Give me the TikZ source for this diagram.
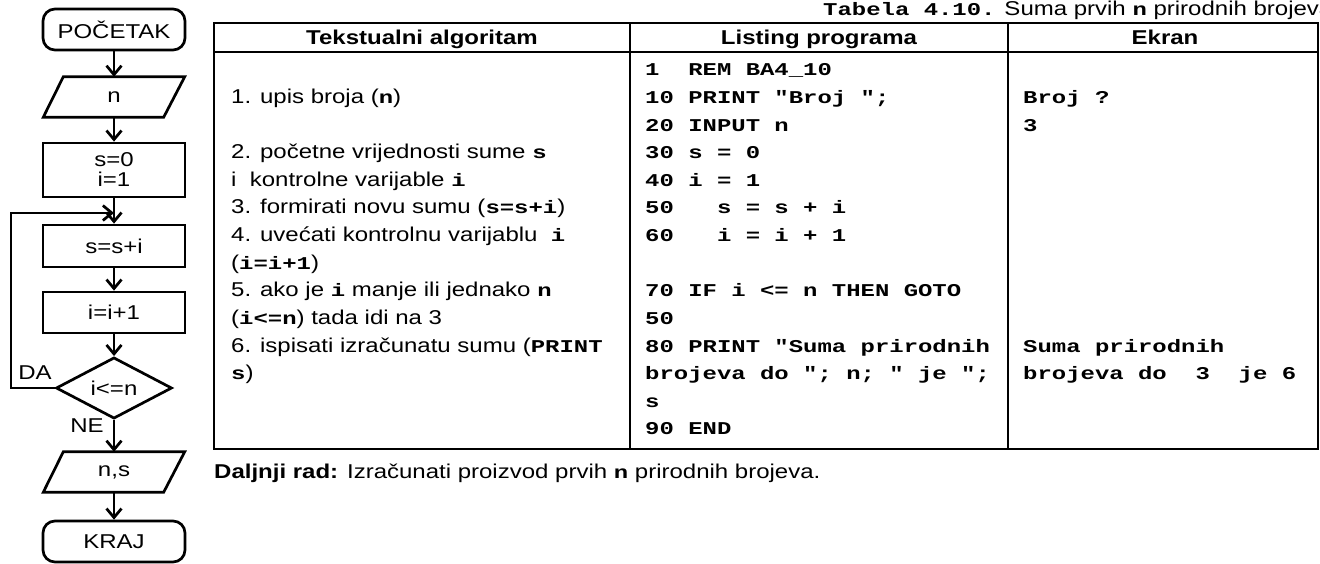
\documentclass[tikz,border=0pt]{standalone}
\usepackage{fontspec}
\setmainfont{Liberation Sans}[FakeStretch=1.2]
\newfontfamily\codefont{Liberation Mono}[FakeStretch=1.33]
\usetikzlibrary{arrows.meta,shapes.geometric}
% bold typewriter text for BASIC code and variable names
\newcommand{\cd}[1]{{\codefont\bfseries\fontsize{18}{18}\selectfont #1}}
\begin{document}
\begin{tikzpicture}[x=1pt,y=-1pt,
  every node/.style={font=\fontsize{20}{20}\selectfont, inner sep=0pt},
  fl/.style={line width=2.7pt},
  tl/.style={line width=2.4pt},
  flow/.style={fl, -{Straight Barb[length=9pt,width=15pt]}},
  term/.style={draw, fl, rounded corners=12pt, minimum width=142pt, minimum height=41pt},
  proc/.style={draw, fl, minimum width=142pt},
  io/.style={minimum width=141pt, minimum height=40pt},
  cond/.style={draw, fl, diamond, minimum width=116pt, minimum height=59pt},
  cell/.style={anchor=base west},
  head/.style={anchor=base, font=\fontsize{20}{20}\selectfont\bfseries}]

\useasboundingbox (0,0) rectangle (1320,564);
\fill[white] (0,0) rectangle (1320,564);

% ---------- flowchart ----------
\node[term] (start) at (114,29.5) {POČETAK};
\node[io] (in) at (114,97) {n};
\node[proc, minimum height=54pt, align=center] (init) at (114,170) {s=0\\i=1};
\node[proc, minimum height=42pt] (add) at (114,246) {s=s+i};
\node[proc, minimum height=41pt] (inc) at (114,312.5) {i=i+1};
\node[cond] (test) at (114,388) {i<=n};
\node[io] (out) at (114,472) {n,s};
\node[term] (stop) at (114,541.5) {KRAJ};

\draw[fl, line join=miter] (in.south west) -- ([xshift=-21pt]in.south east)
  -- (in.north east) -- ([xshift=20pt]in.north west) -- cycle;
\draw[fl, line join=miter] (out.south west) -- ([xshift=-21pt]out.south east)
  -- (out.north east) -- ([xshift=20pt]out.north west) -- cycle;

\draw[flow] (start) -- (in);
\draw[flow] (in) -- (init);
\draw[flow] (init) -- (add);
\draw[flow] (add) -- (inc);
\draw[flow] (inc) -- (test);
\draw[flow] (test) -- (out);
\draw[flow] (out) -- (stop);

\coordinate (lp) at (11,213);
\draw[flow] (test.west) -| (lp) -- (lp -| init.south);

\node (da) at (35,373) {DA};
\node (ne) at (87,426) {NE};

% ---------- table ----------
\node[anchor=base west] (cap) at (823,16) {\cd{Tabela 4.10.} Suma prvih \cd{n} prirodnih brojeva};

\draw[tl] (214,23) rectangle (1318,449);
\draw[tl] (214,52) -- (1318,52);
\draw[tl] (630,23) -- (630,449);
\draw[tl] (1008,23) -- (1008,449);

\node[head] (h1) at (422,45) {Tekstualni algoritam};
\node[head] (h2) at (819,45) {Listing programa};
\node[head] (h3) at (1165,45) {Ekran};

% algorithm column
\node[cell] (a1) at (231,103.6) {1. upis broja (\cd{n})};
\node[cell] (a2) at (231,158.8) {2. početne vrijednosti sume \cd{s}};
\node[cell] (a3) at (231,186.4) {i\ \ kontrolne varijable \cd{i}};
\node[cell] (a4) at (231,214) {3. formirati novu sumu (\cd{s=s+i})};
\node[cell] (a5) at (231,241.6) {4. uvećati kontrolnu varijablu\ \ \cd{i}};
\node[cell] (a6) at (231,269.2) {(\cd{i=i+1})};
\node[cell] (a7) at (231,296.8) {5. ako je \cd{i} manje ili jednako \cd{n}};
\node[cell] (a8) at (231,324.4) {(\cd{i<=n}) tada idi na 3};
\node[cell] (a9) at (231,352) {6. ispisati izračunatu sumu (\cd{PRINT}};
\node[cell] (a10) at (231,379.6) {\cd{s})};

% program listing column
\node[cell] (p0) at (645,76) {\cd{1\ \ REM BA4\_10}};
\node[cell] (p1) at (645,103.6) {\cd{10 PRINT "Broj ";}};
\node[cell] (p2) at (645,131.2) {\cd{20 INPUT n}};
\node[cell] (p3) at (645,158.8) {\cd{30 s = 0}};
\node[cell] (p4) at (645,186.4) {\cd{40 i = 1}};
\node[cell] (p5) at (645,214) {\cd{50\ \ \ s = s + i}};
\node[cell] (p6) at (645,241.6) {\cd{60\ \ \ i = i + 1}};
\node[cell] (p8) at (645,296.8) {\cd{70 IF i <= n THEN GOTO}};
\node[cell] (p9) at (645,324.4) {\cd{50}};
\node[cell] (p10) at (645,352) {\cd{80 PRINT "Suma prirodnih}};
\node[cell] (p11) at (645,379.6) {\cd{brojeva do "; n; " je ";}};
\node[cell] (p12) at (645,407.2) {\cd{s}};
\node[cell] (p13) at (645,434.8) {\cd{90 END}};

% screen output column
\node[cell] (e1) at (1023,103.6) {\cd{Broj ?}};
\node[cell] (e2) at (1023,131.2) {\cd{3}};
\node[cell] (e10) at (1023,352) {\cd{Suma prirodnih}};
\node[cell] (e11) at (1023,379.6) {\cd{brojeva do\ \ 3\ \ je 6}};

% note below the table
\node[anchor=base west] (dalje) at (214,478) {\textbf{Daljnji rad:} Izračunati proizvod prvih \cd{n} prirodnih brojeva.};
\end{tikzpicture}
\end{document}
